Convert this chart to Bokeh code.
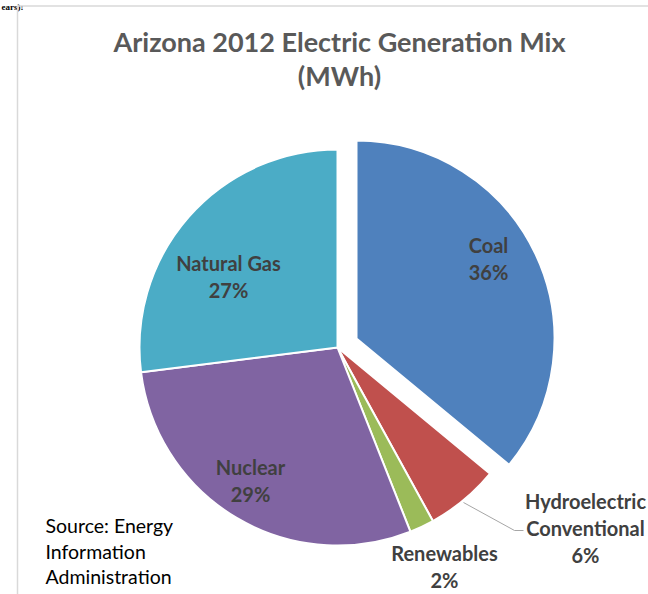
import math
from bokeh.plotting import figure
from bokeh.models import Range1d, ColumnDataSource
from bokeh.core.properties import value
from bokeh.embed import file_html
from bokeh.resources import INLINE

# ---- data ----
categories = ["Coal", "Hydroelectric\nConventional", "Renewables", "Nuclear", "Natural Gas"]
shares = [36, 6, 2, 29, 27]
colors = ["#4F81BD", "#C0504D", "#9BBB59", "#8064A2", "#4BACC6"]
explode = [21, 0, 0, 0, 0]
title_lines = ["Arizona 2012 Electric Generation Mix", "(MWh)"]
source_lines = ["Source: Energy", "Information", "Administration"]

# ---- layout (pixel coords, y measured from top) ----
W, H = 648, 594
CX, CY, R = 337, 347, 198
label_pos = [(488, 258), (585, 527), (444, 566), (250, 480), (228, 276)]

def py(y):
    return H - y

p = figure(width=W, height=H, output_backend="svg", toolbar_location=None,
           x_range=Range1d(0, W), y_range=Range1d(0, H), min_border=0)
p.axis.visible = False
p.grid.visible = False
p.outline_line_color = None
p.background_fill_color = "white"
p.border_fill_color = "white"

# document text at top (mostly outside the chart in the source page)
p.text(x=[1], y=[py(1)], text=["ears):"], text_font=value("Liberation Serif"),
       text_font_style="bold", text_font_size="9px", text_color="black",
       text_baseline="top", text_align="left")

# chart frame
p.line(x=[17, 17, W + 5], y=[-5, py(5.5), py(5.5)], line_color="#d9d9d9", line_width=1.5)

# wedges
total = float(sum(shares))
cum = 0.0
xs, ys, starts, ends = [], [], [], []
for s, e in zip(shares, explode):
    a0 = cum / total * 2 * math.pi
    a1 = (cum + s) / total * 2 * math.pi
    mid = (a0 + a1) / 2
    xs.append(CX + e * math.sin(mid))
    ys.append(py(CY) + e * math.cos(mid))
    starts.append(math.pi / 2 - a1)
    ends.append(math.pi / 2 - a0)
    cum += s

src = ColumnDataSource(dict(x=xs, y=ys, start=starts, end=ends, color=colors))
p.wedge(x="x", y="y", radius=R, start_angle="start", end_angle="end",
        fill_color="color", line_color="white", line_width=2, source=src)

# leader line for hydro
p.line(x=[463, 514, 523], y=[py(502), py(530), py(530)], line_color="#a6a6a6", line_width=1)

# labels
lfont = value("Lato")
for cat, s, (lx, ly) in zip(categories, shares, label_pos):
    lines = cat.split("\n") + [f"{s}%"]
    n = len(lines)
    for i, t in enumerate(lines):
        yy = ly + (i - (n - 1) / 2) * 27
        p.text(x=[lx], y=[py(yy)], text=[t], text_font=lfont, text_font_style="bold",
               text_font_size="20px", text_color="#404040",
               text_align="center", text_baseline="middle")

# title
for i, t in enumerate(title_lines):
    p.text(x=[339], y=[py(41 + i * 34)], text=[t], text_font=lfont, text_font_style="bold",
           text_font_size="27px", text_color="#595959",
           text_align="center", text_baseline="middle")

# source note
for i, t in enumerate(source_lines):
    p.text(x=[45], y=[py(525 + i * 25.5)], text=[t], text_font=lfont,
           text_font_size="19.5px", text_color="black",
           text_align="left", text_baseline="middle")

open("out.html", "w").write(file_html(p, INLINE))
